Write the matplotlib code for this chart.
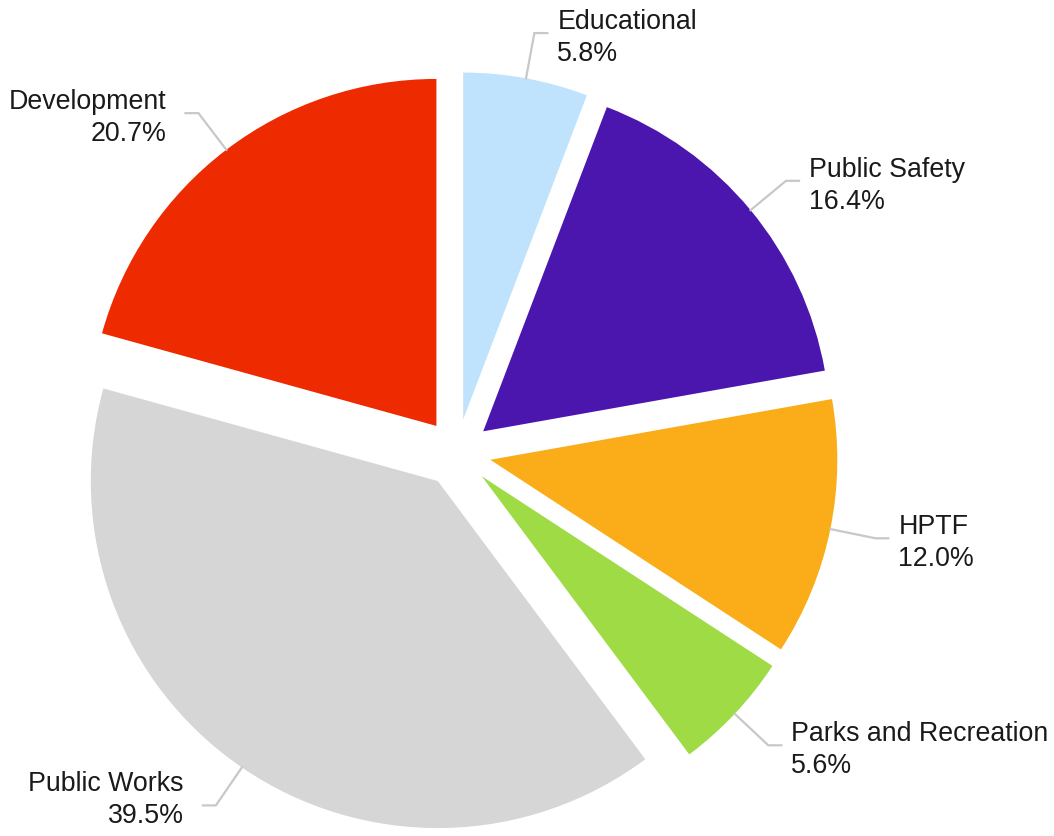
import numpy as np
import matplotlib.pyplot as plt

# Dane
kategorie = ['Educational', 'Public Safety', 'HPTF', 'Parks and Recreation',
             'Public Works', 'Development']
udzialy = [5.8, 16.4, 12.0, 5.6, 39.5, 20.7]
kolory = ['#bfe3fd', '#4b16ad', '#faac19', '#9edb45', '#d6d6d6', '#ee2a00']

plt.rcParams['font.family'] = ['Liberation Sans', 'DejaVu Sans']

fig = plt.figure(figsize=(10.54, 8.37), dpi=100)
ax = fig.add_axes([0, 0, 1, 1])

# wykres w jednostkach pikseli (explode w tych samych jednostkach)
R = 347
wedges, _ = ax.pie(udzialy, colors=kolory, startangle=90, counterclock=False,
                   explode=[34] * len(udzialy), radius=R, center=(457, 383),
                   wedgeprops=dict(linewidth=0))

# etykiety z liniami odniesienia
for w, nazwa, v in zip(wedges, kategorie, udzialy):
    kat = np.deg2rad((w.theta1 + w.theta2) / 2)
    cx, cy = w.center
    dx, dy = np.cos(kat), np.sin(kat)
    x0, y0 = cx + R * dx, cy + R * dy
    x1, y1 = x0 + 46 * dx, y0 + 46 * dy
    strona = 1 if dx >= 0 else -1
    x2 = x1 + 13 * strona
    ax.plot([x0, x1, x2], [y0, y1, y1], color='#c8c8c8', lw=1.6,
            solid_joinstyle='miter')
    odstep = 10 if strona > 0 else 19
    # nie wychodzic poza dolna krawedz
    y_txt = max(y1 - 4, 37)
    ax.text(x2 + odstep * strona, y_txt, f'{nazwa}\n{v:.1f}%',
            ha='left' if strona > 0 else 'right', va='center',
            multialignment='left' if strona > 0 else 'right',
            fontsize=19.3, color='#1a1a1a', linespacing=1.3)

ax.set_xlim(0, 1054)
ax.set_ylim(0, 837)
ax.set_aspect('equal')
ax.axis('off')

plt.savefig('out.png', dpi=100)
